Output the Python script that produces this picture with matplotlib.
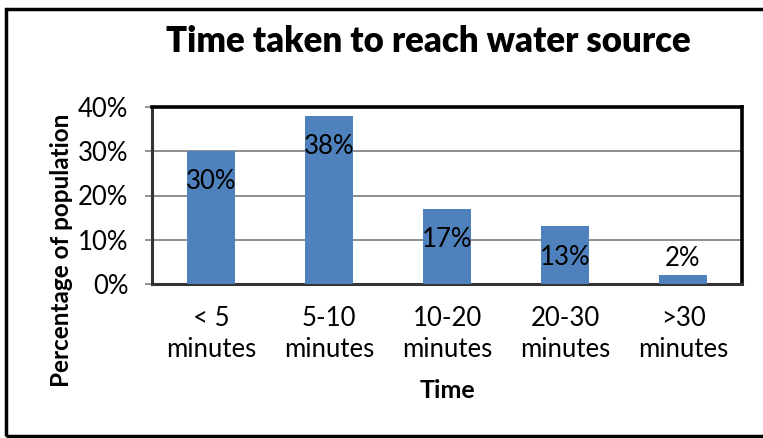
import matplotlib.pyplot as plt
from matplotlib.patches import Rectangle
from matplotlib.ticker import FuncFormatter

categories = ['< 5\nminutes', '5-10\nminutes', '10-20\nminutes', '20-30\nminutes', '>30\nminutes']
percent = [30, 38, 17, 13, 2]
y_ticks = [0, 10, 20, 30, 40]

plt.rcParams['font.family'] = ['Lato', 'DejaVu Sans']

fig = plt.figure(figsize=(7.63, 4.38), dpi=100)
ax = fig.add_axes([152 / 763, 1 - 284 / 438, 590 / 763, 177 / 438])

x = range(len(categories))
bars = ax.bar(x, percent, width=0.4, color='#4F81BD', zorder=3)

# value labels: inside the top of the bar, or above it when the bar is too short
for rect, val in zip(bars, percent):
    cx = rect.get_x() + rect.get_width() / 2
    if val >= 10:
        off = -22
    else:
        off = 12
    ax.annotate(f'{val}%', (cx, val), xytext=(0, off), textcoords='offset points',
                ha='center', va='center', fontsize=18.5, color='black', zorder=4)

ax.set_xlim(-0.5, len(categories) - 0.5)
ax.set_ylim(0, 40)
ax.set_yticks(y_ticks)
ax.yaxis.set_major_formatter(FuncFormatter(lambda v, p: f'{v:.0f}%'))
ax.set_xticks(list(x))
ax.set_xticklabels(categories, fontsize=18.5, linespacing=1.3)
ax.tick_params(axis='y', labelsize=18.5, length=5, width=1.2, color='#808080', pad=12)
ax.tick_params(axis='x', length=0, pad=16)

ax.grid(axis='y', color='#868686', linewidth=1.3, zorder=0)
ax.set_axisbelow(True)

for side in ['top', 'right']:
    ax.spines[side].set_linewidth(2.6)
    ax.spines[side].set_color('black')
for side in ['left', 'bottom']:
    ax.spines[side].set_linewidth(2.2)
    ax.spines[side].set_color('#333333')

ax.set_xlabel('Time', fontsize=18, fontweight='bold', labelpad=12)
fig.text(62 / 763, 1 - 250 / 438, 'Percentage of population', rotation=90,
         ha='center', va='center', fontsize=17.5, fontweight='bold')
fig.text(428 / 763, 1 - 42 / 438, 'Time taken to reach water source',
         ha='center', va='center', fontsize=25, fontweight='heavy')

# chart frame, open on the right edge
frame = Rectangle((6 / 763, 2 / 438), 1.05, 1 - 11 / 438, transform=fig.transFigure,
                  fill=False, edgecolor='black', linewidth=2.5, clip_on=False)
fig.patches.append(frame)

fig.savefig('out.png', dpi=100)
